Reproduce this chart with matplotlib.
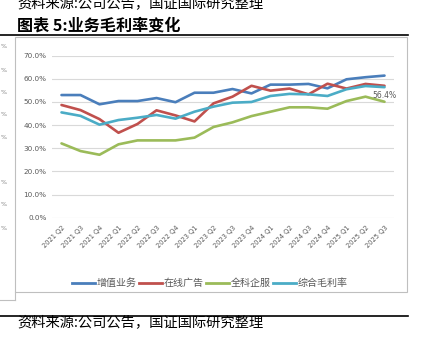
import matplotlib
matplotlib.use("Agg")
import matplotlib.pyplot as plt
from matplotlib.lines import Line2D
from matplotlib.patches import Rectangle

plt.rcParams['font.family'] = ['Noto Sans CJK SC', 'DejaVu Sans']

quarters = ['2021 Q2', '2021 Q3', '2021 Q4', '2022 Q1', '2022 Q2', '2022 Q3', '2022 Q4',
            '2023 Q1', '2023 Q2', '2023 Q3', '2023 Q4', '2024 Q1', '2024 Q2', '2024 Q3',
            '2024 Q4', '2025 Q1', '2025 Q2', '2025 Q3']
value_added = [53.0, 53.0, 49.0, 50.4, 50.4, 51.7, 49.9, 54.0, 54.0, 55.6, 53.7, 57.5, 57.5, 57.8, 55.9, 59.8, 60.7, 61.4]
online_ads = [48.7, 46.5, 42.6, 36.7, 40.5, 46.4, 44.2, 41.6, 49.4, 52.3, 57.0, 54.9, 55.8, 53.3, 57.9, 55.8, 57.8, 57.0]
enterprise = [32.1, 28.8, 27.2, 31.7, 33.4, 33.4, 33.4, 34.6, 39.2, 41.2, 43.9, 45.8, 47.7, 47.7, 47.1, 50.4, 52.3, 50.1]
overall = [45.5, 44.0, 40.2, 42.2, 43.2, 44.4, 42.8, 45.8, 48.0, 49.7, 50.0, 52.6, 53.5, 53.3, 52.6, 55.5, 56.9, 56.4]
series_names = ['增值业务', '在线广告', '全科企服', '综合毛利率']
colors = ['#4A7EBB', '#C0504D', '#9BBB59', '#4BACC6']
yticks = [0, 10, 20, 30, 40, 50, 60, 70]

W, H = 431, 351
fig = plt.figure(figsize=(W / 100, H / 100), dpi=100)


def fx(x):
    return x / W


def fy(y):
    return 1 - y / H


# chart frame
fig.add_artist(Rectangle((fx(15), fy(292)), fx(407) - fx(15), fy(37) - fy(292),
                         transform=fig.transFigure, fill=False, edgecolor='#BFBFBF', lw=0.8))
# remnant of frame behind
fig.add_artist(Line2D([fx(15), fx(15)], [fy(292), fy(300)], transform=fig.transFigure, color='#BFBFBF', lw=0.8))
fig.add_artist(Line2D([fx(0), fx(15)], [fy(300), fy(300)], transform=fig.transFigure, color='#BFBFBF', lw=0.8))
for yy in [47, 70, 93, 115, 138, 183, 205, 228]:
    fig.text(fx(0.5), fy(yy), '%', fontsize=4.5, color='#7F7F7F', ha='left', va='center', family='DejaVu Sans')

# heading rules
fig.add_artist(Line2D([fx(0), fx(408)], [fy(35), fy(35)], transform=fig.transFigure, color='black', lw=1.2))
fig.add_artist(Line2D([fx(0), fx(408)], [fy(316), fy(316)], transform=fig.transFigure, color='black', lw=1.2))

fig.text(fx(17), fy(3), '资料来源:公司公告，国证国际研究整理', fontsize=10.3, ha='left', va='center', color='black')
fig.text(fx(17), fy(25.5), '图表 5:业务毛利率变化', fontsize=11.6, fontweight='bold', ha='left', va='center', color='black')
fig.text(fx(17), fy(322), '资料来源:公司公告，国证国际研究整理', fontsize=10.3, ha='left', va='center', color='black')

ax = fig.add_axes([fx(52), fy(217.7), fx(394) - fx(52), fy(55.7) - fy(217.7)])
x = list(range(len(quarters)))
for vals, c, name in zip([value_added, online_ads, enterprise, overall], colors, series_names):
    ax.plot(x, vals, color=c, lw=1.9, label=name, solid_capstyle='round')

ax.annotate(f'{overall[-1]:.1f}%', (x[-1], overall[-1]), xytext=(0, -3), textcoords='offset points',
            ha='center', va='top', fontsize=5.5, color='#595959', family='DejaVu Sans')

ax.set_xlim(-0.5, len(quarters) - 0.5)
ax.set_ylim(0, 70)
ax.set_yticks(yticks)
ax.set_yticklabels([f'{v:.1f}%' for v in yticks], fontsize=5.2, color='#595959', family='DejaVu Sans')
ax.set_xticks(x)
ax.set_xticklabels(quarters, rotation=45, ha='right', rotation_mode='anchor', fontsize=4.8,
                   color='#595959', family='DejaVu Sans')
ax.tick_params(length=0, axis='y', pad=4)
ax.tick_params(length=0, axis='x', pad=5)
ax.grid(axis='y', color='#D9D9D9', lw=0.8)
ax.set_axisbelow(True)
for s in ax.spines.values():
    s.set_visible(False)

handles = [Line2D([0], [0], color=c, lw=2) for c in colors]
fig.legend(handles, series_names, loc='center', bbox_to_anchor=(fx(210), fy(283)), ncol=4,
           frameon=False, fontsize=7.2, handlelength=2.3, handletextpad=0.2, columnspacing=0.2,
           labelcolor='#595959')

fig.savefig('out.png', dpi=100)
